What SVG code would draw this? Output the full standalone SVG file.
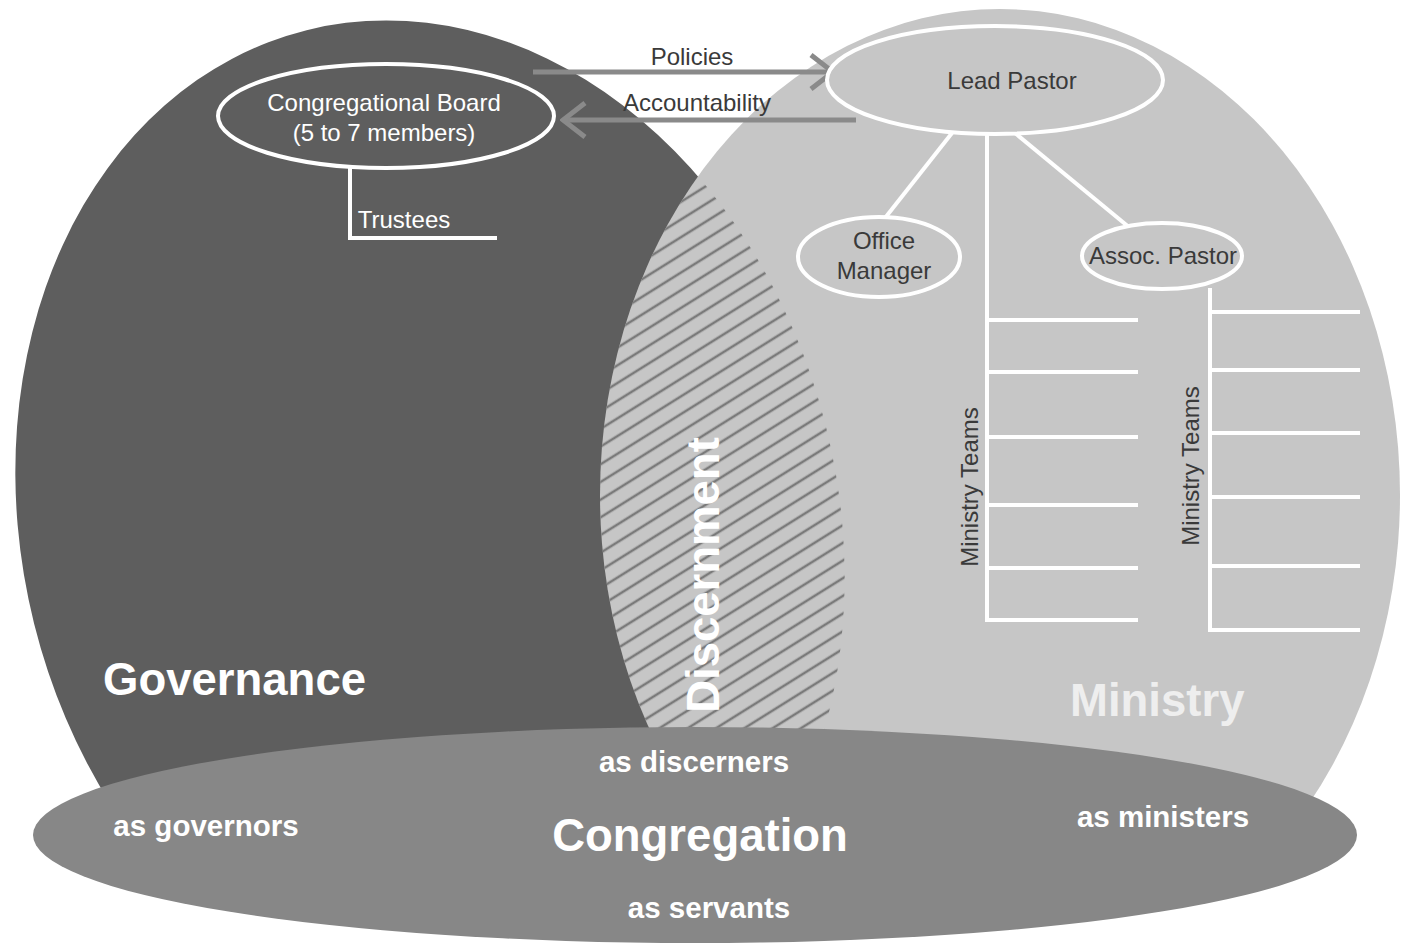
<svg xmlns="http://www.w3.org/2000/svg" width="1403" height="945" viewBox="0 0 1403 945">
<style>
.lbl{font-family:"Liberation Sans",Arial,sans-serif;font-size:24px;fill:#3a3a3a;text-anchor:middle}
.wl{font-family:"Liberation Sans",Arial,sans-serif;font-size:24px;fill:#ffffff;text-anchor:middle}
.big{font-family:"Liberation Sans",Arial,sans-serif;font-size:45.5px;font-weight:bold;fill:#ffffff}
.as{font-family:"Liberation Sans",Arial,sans-serif;font-size:29.5px;font-weight:bold;fill:#ffffff;text-anchor:middle}
.wline{stroke:#ffffff;stroke-width:4;fill:none}
.node{stroke:#ffffff;stroke-width:4}
.arr{stroke:#8a8a8a;stroke-width:5;fill:none}
</style>
<defs>
<ellipse id="darkShape" cx="430" cy="525" rx="408" ry="510" transform="rotate(-14 430 525)"/>
<clipPath id="clipDark"><use href="#darkShape"/></clipPath>
<clipPath id="clipLight"><ellipse cx="1000" cy="495" rx="400" ry="486"/></clipPath>
<clipPath id="clipTop"><rect x="0" y="0" width="1403" height="835"/></clipPath>
<pattern id="hatch" patternUnits="userSpaceOnUse" width="30" height="15" patternTransform="rotate(-32)">
<line x1="0" y1="7" x2="30" y2="7" stroke="#7a7a7a" stroke-width="2.6"/>
</pattern>
<marker id="chev" viewBox="0 0 28 40" refX="25" refY="20" markerWidth="28" markerHeight="40" markerUnits="userSpaceOnUse" orient="auto">
<path d="M3,3 L25,20 L3,37" stroke="#8a8a8a" stroke-width="5" fill="none"/>
</marker>
</defs>
<rect width="1403" height="945" fill="#ffffff"/>
<g clip-path="url(#clipTop)">
<g id="governance">
<use href="#darkShape" fill="#5e5e5e"/>
</g>
<g id="ministry">
<ellipse cx="1000" cy="495" rx="400" ry="486" fill="#c6c6c6"/>
</g>
<g id="discernment">
<g clip-path="url(#clipLight)">
<rect x="0" y="0" width="1403" height="945" fill="url(#hatch)" clip-path="url(#clipDark)"/>
</g>
</g>
</g>
<g id="congregation">
<ellipse cx="695" cy="835" rx="662" ry="108" fill="#878787"/>
</g>
<g id="connectors">
<line class="arr" x1="533" y1="72" x2="833" y2="72" marker-end="url(#chev)"/>
<line class="arr" x1="856" y1="120" x2="563" y2="120" marker-end="url(#chev)"/>
<polyline class="wline" points="350,168 350,238 497,238"/>
<line class="wline" x1="952" y1="133" x2="885" y2="218"/>
<line class="wline" x1="1015" y1="133" x2="1130" y2="228"/>
<polyline class="wline" points="987,135 987,620"/>
<line class="wline" x1="987" y1="320" x2="1138" y2="320"/>
<line class="wline" x1="987" y1="372" x2="1138" y2="372"/>
<line class="wline" x1="987" y1="437" x2="1138" y2="437"/>
<line class="wline" x1="987" y1="505" x2="1138" y2="505"/>
<line class="wline" x1="987" y1="568" x2="1138" y2="568"/>
<line class="wline" x1="985" y1="620" x2="1138" y2="620"/>
<polyline class="wline" points="1210,288 1210,630"/>
<line class="wline" x1="1210" y1="312" x2="1360" y2="312"/>
<line class="wline" x1="1210" y1="370" x2="1360" y2="370"/>
<line class="wline" x1="1210" y1="433" x2="1360" y2="433"/>
<line class="wline" x1="1210" y1="497" x2="1360" y2="497"/>
<line class="wline" x1="1210" y1="566" x2="1360" y2="566"/>
<line class="wline" x1="1208" y1="630" x2="1360" y2="630"/>
</g>
<g id="board">
<ellipse class="node" cx="386" cy="116" rx="168" ry="52" fill="#5e5e5e"/>
<text class="wl" x="384" y="111">Congregational Board</text>
<text class="wl" x="384" y="141">(5 to 7 members)</text>
</g>
<g id="trustees"><text class="wl" x="404" y="228">Trustees</text></g>
<g id="lead-pastor">
<ellipse class="node" cx="995" cy="80" rx="168" ry="54" fill="#c6c6c6"/>
<text class="lbl" x="1012" y="89">Lead Pastor</text>
</g>
<g id="office-manager">
<ellipse class="node" cx="879" cy="257" rx="81" ry="40" fill="#c6c6c6"/>
<text class="lbl" x="884" y="249">Office</text>
<text class="lbl" x="884" y="279">Manager</text>
</g>
<g id="assoc-pastor">
<ellipse class="node" cx="1162" cy="256" rx="80" ry="33" fill="#c6c6c6"/>
<text class="lbl" x="1163" y="264">Assoc. Pastor</text>
</g>
<g id="labels">
<text class="lbl" x="692" y="65">Policies</text>
<text class="lbl" x="697" y="111">Accountability</text>
<text class="lbl" transform="translate(978,487) rotate(-90)">Ministry Teams</text>
<text class="lbl" transform="translate(1199,466) rotate(-90)">Ministry Teams</text>
<text class="big" transform="translate(719,575) rotate(-90)" text-anchor="middle">Discernment</text>
<text class="big" x="103" y="695">Governance</text>
<text class="big" x="1070" y="716" style="fill:#eeeeee">Ministry</text>
<text class="as" x="694" y="772">as discerners</text>
<text class="as" x="206" y="836">as governors</text>
<text class="big" x="700" y="851" text-anchor="middle">Congregation</text>
<text class="as" x="1163" y="827">as ministers</text>
<text class="as" x="709" y="918">as servants</text>
</g>
</svg>
